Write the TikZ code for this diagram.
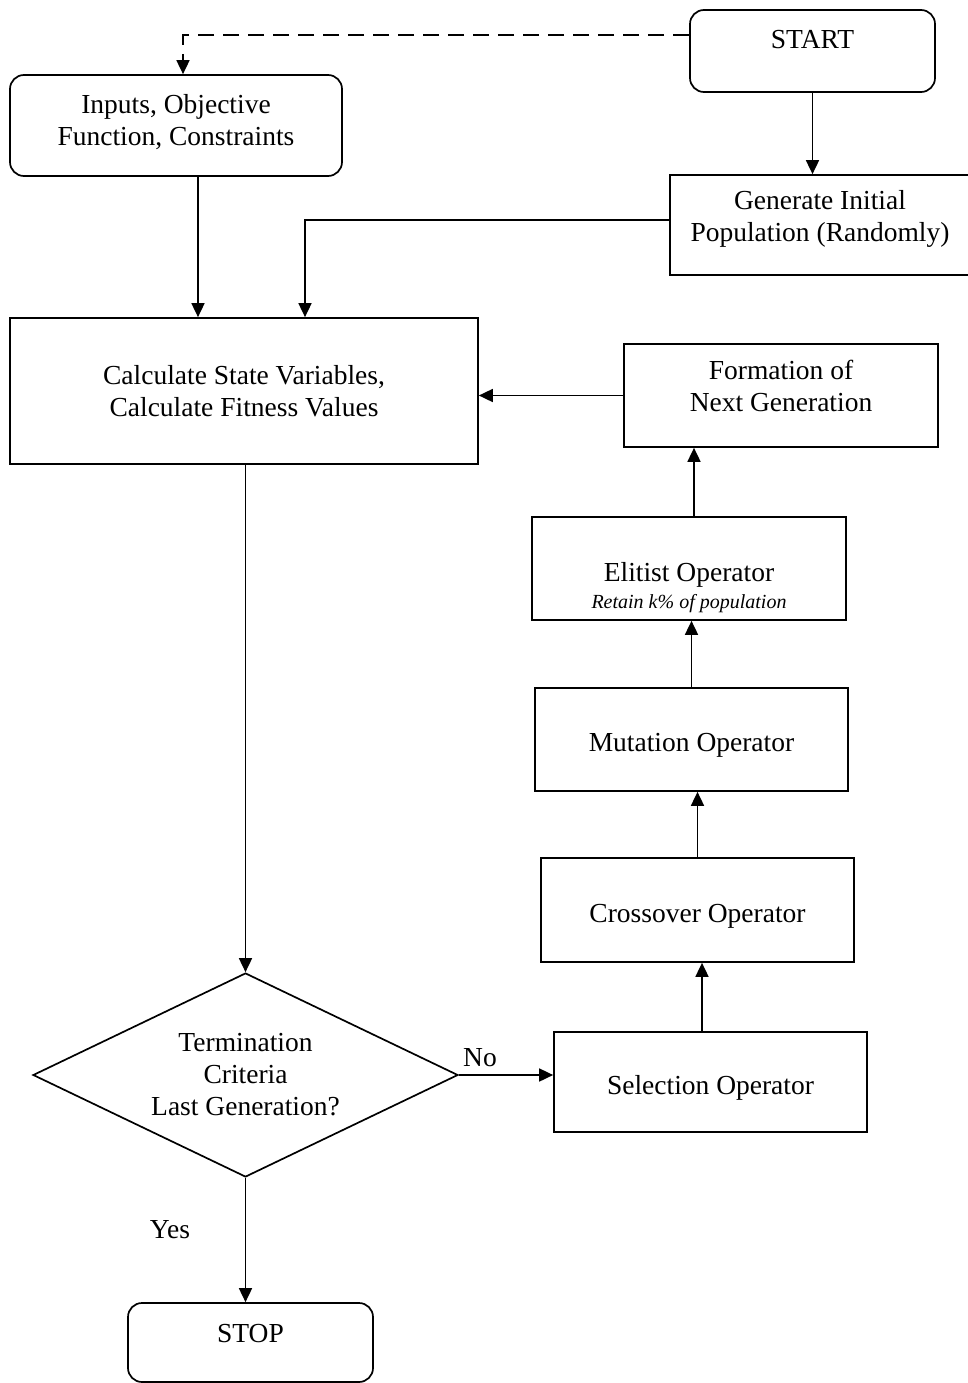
\documentclass[tikz,border=0pt]{standalone}
\usepackage{fontspec}
\setmainfont{Liberation Serif}
\usetikzlibrary{arrows.meta,shapes.geometric}
\begin{document}
\begin{tikzpicture}[x=1pt,y=-1pt,
  every node/.style={font=\fontsize{27.5}{32}\selectfont},
  box/.style={draw,line width=1.7pt,inner sep=0pt,align=center},
  rbox/.style={box,rounded corners=14pt},
  arr/.style={line width=1.7pt,-{Triangle[length=14pt,width=13pt]}},
  lbl/.style={inner sep=0pt}]
\useasboundingbox (0,0) rectangle (967,1383);
% boxes
\node[rbox,minimum width=245pt,minimum height=82pt] (start) at (812.5,51) {START\rule[-24pt]{0pt}{1pt}};
\node[rbox,minimum width=332pt,minimum height=101pt] (inputs) at (176,125.5) {Inputs, Objective\\Function, Constraints\rule[-11pt]{0pt}{1pt}};
\node[box,minimum width=300pt,minimum height=100pt] (gen) at (820,225) {Generate Initial\\Population (Randomly)\rule[-18pt]{0pt}{1pt}};
\node[box,minimum width=468pt,minimum height=146pt] (calc) at (244,391) {Calculate State Variables,\\Calculate Fitness Values};
\node[box,minimum width=314pt,minimum height=103pt] (form) at (781,395.5) {Formation of\\Next Generation\rule[-19pt]{0pt}{1pt}};
\node[box,minimum width=314pt,minimum height=103pt] (elit) at (689,568.5) {\rule{0pt}{58pt}Elitist Operator\\[-5pt]{\fontsize{20}{22}\selectfont\itshape Retain k\% of population}};
\node[box,minimum width=313pt,minimum height=103pt] (mut) at (691.5,739.5) {\rule{0pt}{30pt}Mutation Operator};
\node[box,minimum width=313pt,minimum height=104pt] (cross) at (697.5,910) {\rule{0pt}{30pt}Crossover Operator};
\node[box,minimum width=313pt,minimum height=100pt] (sel) at (710.5,1082) {\rule{0pt}{30pt}Selection Operator};
\node[draw,line width=1.7pt,shape=diamond,aspect=2.08,minimum width=425pt,minimum height=204pt,inner sep=0pt,align=center] (dec) at (245.5,1075) {Termination\\Criteria\\Last Generation?};
\node[rbox,minimum width=245pt,minimum height=79pt] (stop) at (250.5,1342.5) {STOP\rule[-18pt]{0pt}{1pt}};
% labels
\node[lbl] (nolbl) at (480,1058) {No};
\node[lbl] (yeslbl) at (170,1230) {Yes};
% helper coordinates
\coordinate (dashy) at (0,35);
\coordinate (inx) at (183,0);
\coordinate (inbx) at (198,0);
\coordinate (genx) at (305,0);
% connectors
\draw[arr,dash pattern=on 16pt off 9pt] (start.west |- dashy) -| (inputs.north -| inx);
\draw[arr] (start.south) -- (start.south |- gen.north);
\draw[arr] (inputs.south -| inbx) -- (calc.north -| inbx);
\draw[arr] ([yshift=5pt]gen.west) -| (calc.north -| genx);
\draw[arr] (form.west) -- (form.west -| calc.east);
\draw[arr] ([xshift=5pt]elit.north) -- ([xshift=5pt]elit.north |- form.south);
\draw[arr] (mut.north) -- (mut.north |- elit.south);
\draw[arr] (cross.north) -- (cross.north |- mut.south);
\draw[arr] ([xshift=-8.5pt]sel.north) -- ([xshift=-8.5pt]sel.north |- cross.south);
\draw[arr] (calc.south -| dec.north) -- (dec.north);
\draw[arr] (dec.east) -- (dec.east -| sel.west);
\draw[arr] (dec.south) -- (dec.south |- stop.north);
\end{tikzpicture}
\end{document}
